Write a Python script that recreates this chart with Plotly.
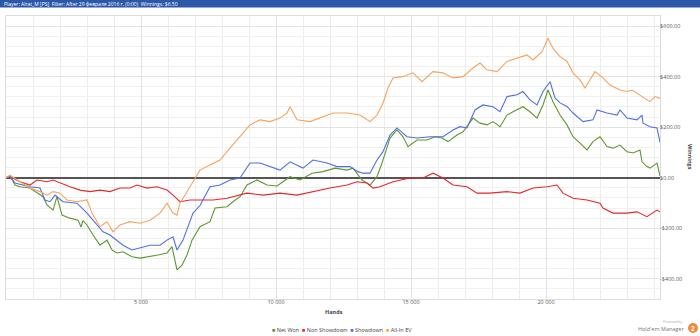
import plotly.graph_objects as go

# ---------------- data ----------------
net_hands = [0, 148, 333, 519, 889, 1148, 1370, 1519, 1741, 1889, 2074, 2370, 2667, 2780, 2850, 3000, 3222,
             3481, 3741, 3926, 4111, 4333, 4667, 4963, 5333, 5630, 5963, 6148, 6333, 6519, 6704, 6889, 7185,
             7556, 7741, 8185, 8407, 8667, 8926, 9296, 9667, 10037, 10519, 10889, 11333, 11741, 12185, 12630,
             12852, 13185, 13481, 13741, 13926, 14148, 14222, 14481, 14704, 14889, 15222, 15593, 15889, 16148,
             16370, 16704, 16926, 17296, 17556, 17815, 18037, 18296, 18556, 18778, 19148, 19407, 19667, 19889,
             20074, 20259, 20519, 20778, 21000, 21259, 21519, 21741, 22000, 22259, 22481, 22741, 23000, 23222,
             23481, 23556, 23741, 23852, 24111, 24222]
net_won = [0, 8, -29, -36, -41, -61, -75, -108, -128, -75, -148, -160, -168, -195, -170, -187, -227,
           -267, -247, -286, -298, -293, -313, -318, -313, -306, -298, -273, -365, -346, -306, -247, -194,
           -174, -120, -115, -95, -75, -29, -9, -29, -33, 4, -9, 18, 24, 38, 30,
           38, -9, -29, 4, 58, 137, 157, 189, 162, 123, 149, 149, 162, 157,
           143, 169, 182, 236, 216, 209, 222, 202, 248, 261, 281, 261, 236, 288,
           347, 301, 248, 209, 162, 137, 110, 143, 162, 123, 117, 129, 103, 98,
           110, 63, 44, 38, 58, 6.5]

nsd_hands = [0, 148, 519, 889, 1148, 1519, 1741, 2000, 2370, 2741, 3111, 3481, 3852, 4222, 4593, 4852, 5222,
             5593, 5963, 6185, 6444, 6815, 7185, 7667, 8185, 8667, 8926, 9519, 10148, 10778, 11370, 12000,
             12630, 13000, 13370, 13593, 13852, 14333, 14963, 15444, 15815, 16185, 16556, 17074, 17444, 17926,
             18556, 19037, 19519, 20037, 20407, 20630, 21000, 21519, 22000, 22111, 22481, 23000, 23370, 23741,
             24111, 24222]
non_showdown = [0, 4, -16, -29, -9, -16, -9, -21, -36, -49, -55, -49, -55, -41, -41, -29, -41,
                -36, -49, -69, -95, -88, -88, -88, -81, -69, -61, -69, -61, -69, -55, -41,
                -29, -16, -21, -41, -36, -16, -1, -1, 18, -1, -29, -36, -61, -61,
                -55, -61, -41, -36, -29, -61, -81, -88, -101, -120, -140, -140, -135, -154,
                -128, -135]

sd_hands = [0, 148, 333, 889, 1259, 1444, 1630, 1815, 2111, 2630, 3000, 3370, 3593, 3852, 4111, 4333, 4667,
            4963, 5333, 5704, 5963, 6185, 6333, 6556, 6741, 6926, 7185, 7556, 7926, 8296, 8667, 9037, 9407,
            9778, 10148, 10519, 11000, 11370, 11889, 12259, 12741, 13037, 13222, 13481, 13741, 13963, 14222,
            14481, 14852, 15222, 15704, 16185, 16556, 16815, 17074, 17370, 17667, 18037, 18296, 18556, 18926,
            19148, 19407, 19667, 19889, 20148, 20333, 20519, 20778, 21000, 21370, 21741, 21889, 22259, 22630,
            22741, 23000, 23370, 23556, 23593, 23852, 24111, 24222]
showdown = [0, 4, -21, -36, -41, -88, -95, -69, -95, -101, -140, -187, -214, -227, -247, -267, -286,
            -278, -267, -267, -247, -234, -286, -247, -194, -140, -110, -36, -29, -9, -1, 58, 58,
            44, 30, 63, 38, 70, 58, 44, 44, 24, 18, 18, 70, 103, 169,
            197, 162, 157, 162, 162, 189, 202, 197, 268, 288, 281, 261, 321, 328,
            341, 308, 288, 341, 380, 316, 296, 282, 256, 222, 229, 268, 256, 248,
            268, 236, 229, 248, 216, 202, 197, 140]

ev_hands = [0, 148, 519, 889, 1259, 1519, 1741, 2000, 2259, 2630, 3000, 3185, 3481, 3741, 3963, 4222, 4593,
            4963, 5333, 5704, 5963, 6185, 6333, 6444, 6815, 7185, 7556, 7926, 8296, 8667, 9037, 9407, 9778,
            10148, 10407, 10519, 10778, 11259, 11741, 12111, 12630, 13111, 13481, 13741, 13963, 14148, 14333,
            14704, 15074, 15407, 15815, 16185, 16556, 16926, 17296, 17556, 17815, 18185, 18556, 18926, 19296,
            19519, 19852, 20074, 20259, 20519, 20778, 21000, 21259, 21444, 21630, 21815, 22111, 22370, 22741,
            23000, 23185, 23481, 23852, 24037, 24222]
allin_ev = [0, 10, -16, -41, -55, -69, -55, -61, -88, -95, -88, -140, -194, -174, -214, -187, -174,
            -180, -168, -140, -101, -140, -148, -101, -36, 30, 50, 70, 117, 162, 209, 229, 222,
            236, 256, 281, 229, 222, 242, 256, 256, 248, 222, 248, 296, 355, 395,
            400, 415, 380, 420, 415, 395, 400, 434, 454, 427, 420, 460, 474, 486,
            466, 499, 552, 512, 479, 460, 415, 387, 355, 387, 420, 395, 367, 347,
            341, 347, 328, 301, 321, 314]

series_names = ["Net Won", "Non Showdown", "Showdown", "All-In EV"]
series_colors = ["#5e9630", "#e8262d", "#4d6fe3", "#f7a35c"]

x_tick_vals = [5000, 10000, 15000, 20000]
x_tick_text = ["5 000", "10 000", "15 000", "20 000"]
y_tick_vals = [600, 400, 200, 0, -200, -400]
y_tick_text = ["$600.00", "$400.00", "$200.00", "$0.00", "-$200.00", "-$400.00"]

header_text = "Player: Alrat_M [PS]  Filter: After 29 февраля 2016 г. (0:00)  Winnings: $6.50"

# ---------------- figure ----------------
W, H = 700, 336
L, R, T, B = 6, 40, 16, 37
PW, PH = W - L - R, H - T - B

def px(x):
    return (x - L) / PW

def py(y):
    return (H - B - y) / PH

FONT = "Open Sans, Lato, sans-serif"

fig = go.Figure()
all_series = [(net_hands, net_won), (nsd_hands, non_showdown), (sd_hands, showdown), (ev_hands, allin_ev)]
for (h, v), name, col in zip(all_series, series_names, series_colors):
    fig.add_trace(go.Scatter(x=h, y=v, mode="lines", name=name,
                             line=dict(color=col, width=1.1), showlegend=False))

fig.update_layout(
    width=W, height=H,
    margin=dict(l=L, r=R, t=T, b=B),
    paper_bgcolor="white", plot_bgcolor="white",
    font=dict(family=FONT, size=5.5, color="#555"),
    xaxis=dict(range=[0, 24222], tickvals=x_tick_vals, ticktext=x_tick_text,
               showgrid=True, gridcolor="#e2e2e2", gridwidth=1,
               minor=dict(dtick=1000, tick0=0, showgrid=True, gridcolor="#ececec"),
               zeroline=False, showline=True, linecolor="#dcdcdc", mirror=True,
               ticks="", ticklabelstandoff=-3, tickfont=dict(size=5.5, color="#555")),
    yaxis=dict(range=[-480, 640], side="right", tickvals=y_tick_vals, ticktext=y_tick_text,
               showgrid=True, gridcolor="#e2e2e2", gridwidth=1,
               minor=dict(dtick=40, tick0=0, showgrid=True, gridcolor="#f0f0f0"),
               zeroline=True, zerolinecolor="#555", zerolinewidth=2,
               showline=True, linecolor="#dcdcdc", mirror=True,
               ticks="", ticklabelstandoff=-2, tickfont=dict(size=5.5, color="#555")),
)

shapes = [dict(type="rect", xref="paper", yref="paper", x0=px(0), x1=px(W), y0=py(0), y1=py(7.5),
               fillcolor="#2b58a8", line=dict(width=0), layer="above"),
          dict(type="circle", xref="paper", yref="paper", x0=px(688), x1=px(698), y0=py(333), y1=py(323),
               fillcolor="#f08a3c", line=dict(width=0))]

legend_html = "  ".join(
    f"<span style='color:{c}'>■</span> {n}" for n, c in zip(series_names, series_colors))

def ann(text, x, y, size, color, xanchor="center", **kw):
    return dict(text=text, xref="paper", yref="paper", x=px(x), y=py(y), xanchor=xanchor,
                yanchor="middle", showarrow=False, font=dict(size=size, color=color, family=FONT), **kw)

annotations = [
    ann(header_text, 2, 3.8, 5, "white", xanchor="left"),
    ann("<b>Winnings</b>", 690, 157, 5.5, "#444", textangle=90),
    ann("<b>Hands</b>", 334, 312, 5.5, "#444"),
    ann(legend_html, 342, 330, 5.5, "#444"),
    ann("Powered by", 684, 321, 3.5, "#aaa", xanchor="right"),
    ann("Hold'em Manager", 686, 329, 5.5, "#777", xanchor="right"),
    ann("<b>2</b>", 693, 328, 6.5, "white"),
]
fig.update_layout(shapes=shapes, annotations=annotations)

fig.write_html("out.html")
